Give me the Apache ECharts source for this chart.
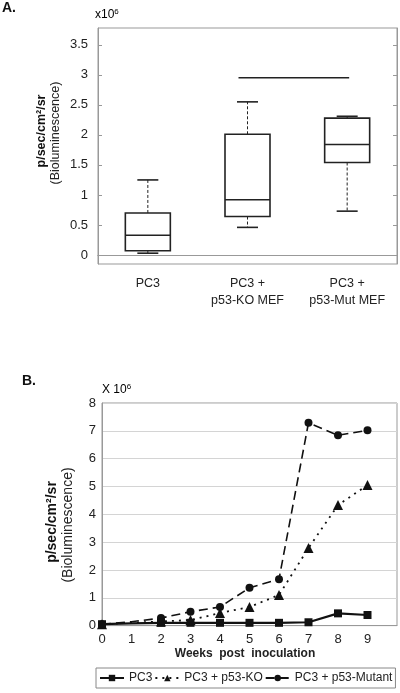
<!DOCTYPE html>
<html><head><meta charset="utf-8">
<script src="https://cdn.jsdelivr.net/npm/echarts@6/dist/echarts.min.js"></script>
<style>html,body{margin:0;padding:0;background:#fff}#c{width:400px;height:693px}</style>
</head><body><div id="c"></div>
<script>
// Panel A data: [min, Q1, median, Q3, max] (x10^6)
const groupsA = ['PC3', 'PC3 +\np53-KO MEF', 'PC3 +\np53-Mut MEF'];
const boxPC3 = [0.03, 0.07, 0.33, 0.70, 1.25];
const boxKO = [0.46, 0.64, 0.92, 2.01, 2.55];
const boxMut = [0.73, 1.54, 1.84, 2.28, 2.31];
const sigBar = [1, 2, 2.95];
const ticksA = [0, 0.5, 1, 1.5, 2, 2.5, 3, 3.5];

// Panel B data (x10^6)
const weeks = [0, 1, 2, 3, 4, 5, 6, 7, 8, 9];
const pc3 = [0.05, 0.08, 0.1, 0.1, 0.1, 0.1, 0.1, 0.12, 0.44, 0.38];
const ko = [0.05, 0.1, 0.15, 0.2, 0.45, 0.67, 1.1, 2.79, 4.33, 5.05];
const mut = [0.05, 0.14, 0.27, 0.5, 0.67, 1.36, 1.67, 7.29, 6.84, 7.02];
const markedWeeks = [0, 2, 3, 4, 5, 6, 7, 8, 9];

const boxes = [boxPC3, boxKO, boxMut];
const FONT = 'Liberation Sans, Arial, sans-serif';
const chart = echarts.init(document.getElementById('c'), null, {renderer: 'canvas'});

function lineData(vals) {
  return weeks.map((w, i) => ({
    value: [w, vals[i]],
    symbolSize: markedWeeks.includes(w) ? undefined : 0
  }));
}

const boxRender = function (params, api) {
  const i = api.value(0);
  const lo = api.coord([i, api.value(1)]);
  const q1 = api.coord([i, api.value(2)]);
  const md = api.coord([i, api.value(3)]);
  const q3 = api.coord([i, api.value(4)]);
  const hi = api.coord([i, api.value(5)]);
  const x = lo[0], bw = 45, cw = 21;
  const solid = {stroke: '#222', lineWidth: 1.6, fill: 'none'};
  const dash = {stroke: '#222', lineWidth: 1, lineDash: [3, 2]};
  return {type: 'group', children: [
    {type: 'line', shape: {x1: x, y1: q3[1], x2: x, y2: hi[1]}, style: dash},
    {type: 'line', shape: {x1: x, y1: q1[1], x2: x, y2: lo[1]}, style: dash},
    {type: 'line', shape: {x1: x - cw / 2, y1: hi[1], x2: x + cw / 2, y2: hi[1]}, style: solid},
    {type: 'line', shape: {x1: x - cw / 2, y1: lo[1], x2: x + cw / 2, y2: lo[1]}, style: solid},
    {type: 'rect', shape: {x: x - bw / 2, y: q3[1], width: bw, height: q1[1] - q3[1]}, style: {stroke: '#222', lineWidth: 1.6, fill: '#fff'}},
    {type: 'line', shape: {x1: x - bw / 2, y1: md[1], x2: x + bw / 2, y2: md[1]}, style: solid}
  ]};
};

const sigRender = function (params, api) {
  const a = api.coord([api.value(0), api.value(2)]);
  const b = api.coord([api.value(1), api.value(2)]);
  return {type: 'line', shape: {x1: a[0] - 9, y1: a[1], x2: b[0] + 2, y2: b[1]}, style: {stroke: '#222', lineWidth: 1.5}};
};

const axisGray = '#999';
const option = {
  animation: false,
  graphic: [
    {type: 'text', x: 2, y: 1, style: {text: 'A.', font: 'bold 14px ' + FONT, fill: '#111'}},
    {type: 'text', x: 95, y: 8, style: {text: '{a|x10}{s|6}', rich: {a: {fontSize: 12, fontFamily: FONT, color: '#222'}, s: {fontSize: 8, fontFamily: FONT, color: '#222', verticalAlign: 'top', padding: [0, 0, 6, 0]}}}},
    {type: 'text', x: 42, y: 131, rotation: Math.PI / 2, style: {text: 'p/sec/cm²/sr', font: 'bold 12.5px ' + FONT, fill: '#111', textAlign: 'center', textVerticalAlign: 'middle'}},
    {type: 'text', x: 56, y: 133, rotation: Math.PI / 2, style: {text: '(Bioluminescence)', font: '12.5px ' + FONT, fill: '#222', textAlign: 'center', textVerticalAlign: 'middle'}},
    {type: 'text', x: 22, y: 374, style: {text: 'B.', font: 'bold 14px ' + FONT, fill: '#111'}},
    {type: 'text', x: 102, y: 383, style: {text: '{a|X 10}{s|6}', rich: {a: {fontSize: 12, fontFamily: FONT, color: '#222'}, s: {fontSize: 8, fontFamily: FONT, color: '#222', verticalAlign: 'top', padding: [0, 0, 6, 0]}}}},
    {type: 'text', x: 52, y: 522, rotation: Math.PI / 2, style: {text: 'p/sec/cm²/sr', font: 'bold 14px ' + FONT, fill: '#111', textAlign: 'center', textVerticalAlign: 'middle'}},
    {type: 'text', x: 68, y: 525, rotation: Math.PI / 2, style: {text: '(Bioluminescence)', font: '14px ' + FONT, fill: '#222', textAlign: 'center', textVerticalAlign: 'middle'}},
    {type: 'text', x: 245, y: 648, style: {text: 'Weeks  post  inoculation', font: 'bold 12px ' + FONT, fill: '#222', textAlign: 'center'}}
  ],
  grid: [
    {left: 98, right: 3, top: 28, height: 236, show: true, borderColor: axisGray, borderWidth: 1},
    {left: 102, right: 3, top: 403, height: 222.6, show: true, borderColor: axisGray, borderWidth: 1}
  ],
  xAxis: [
    {gridIndex: 0, type: 'category', data: groupsA, boundaryGap: true,
     axisLine: {lineStyle: {color: axisGray}}, axisTick: {alignWithLabel: true, inside: true, length: 4, lineStyle: {color: axisGray}},
     axisLabel: {color: '#222', fontSize: 12.5, fontFamily: FONT, margin: 11, lineHeight: 17}},
    {gridIndex: 0, type: 'category', position: 'top', data: groupsA, boundaryGap: true,
     axisLine: {lineStyle: {color: axisGray}}, axisTick: {alignWithLabel: true, inside: true, length: 4, lineStyle: {color: axisGray}},
     axisLabel: {show: false}},
    {gridIndex: 1, type: 'value', min: 0, max: 10, interval: 1,
     axisLine: {lineStyle: {color: axisGray}}, axisTick: {show: false}, splitLine: {show: false},
     axisLabel: {color: '#222', fontSize: 13, fontFamily: FONT, margin: 7, formatter: v => v === 10 ? '' : String(v)}}
  ],
  yAxis: [
    {gridIndex: 0, type: 'value', min: -0.15, max: 3.78,
     axisLine: {show: true, lineStyle: {color: axisGray}},
     axisTick: {show: true, inside: true, length: 4, customValues: ticksA, lineStyle: {color: axisGray}},
     axisLabel: {color: '#222', fontSize: 13, fontFamily: FONT, margin: 10, customValues: ticksA},
     splitLine: {show: false}},
    {gridIndex: 0, type: 'value', position: 'right', min: -0.15, max: 3.78,
     axisLine: {show: true, lineStyle: {color: axisGray}},
     axisTick: {show: true, inside: true, length: 4, customValues: ticksA, lineStyle: {color: axisGray}},
     axisLabel: {show: false, customValues: ticksA}, splitLine: {show: false}},
    {gridIndex: 1, type: 'value', min: 0, max: 8, interval: 1,
     axisLine: {show: true, lineStyle: {color: axisGray}}, axisTick: {show: false},
     axisLabel: {color: '#222', fontSize: 13, fontFamily: FONT, margin: 6},
     splitLine: {lineStyle: {color: '#d4d4d4'}}}
  ],
  legend: {
    left: 96, top: 668,
    borderColor: '#888', borderWidth: 1, padding: [4, 3, 4, 3],
    itemWidth: 24, itemHeight: 8, itemGap: 2,
    textStyle: {fontSize: 12, fontFamily: FONT, color: '#222'},
    data: ['PC3', 'PC3 + p53-KO', 'PC3 + p53-Mutant']
  },
  series: [
    {type: 'custom', name: 'box', xAxisIndex: 0, yAxisIndex: 0, renderItem: boxRender,
     encode: {x: 0, y: [1, 2, 3, 4, 5]},
     data: boxes.map((b, i) => [i].concat(b)), z: 2},
    {type: 'custom', name: 'sig', xAxisIndex: 0, yAxisIndex: 0, renderItem: sigRender,
     encode: {x: [0, 1], y: 2}, data: [sigBar], z: 3},
    {type: 'line', name: 'PC3', xAxisIndex: 2, yAxisIndex: 2, data: lineData(pc3),
     symbol: 'rect', symbolSize: 8, lineStyle: {color: '#111', width: 2.2, type: 'solid'},
     itemStyle: {color: '#111'}, z: 5},
    {type: 'line', name: 'PC3 + p53-KO', xAxisIndex: 2, yAxisIndex: 2, data: lineData(ko),
     symbol: 'triangle', symbolSize: 10, lineStyle: {color: '#111', width: 1.8, type: [2, 5]},
     itemStyle: {color: '#111'}, z: 4},
    {type: 'line', name: 'PC3 + p53-Mutant', xAxisIndex: 2, yAxisIndex: 2, data: lineData(mut),
     symbol: 'circle', symbolSize: 8, lineStyle: {color: '#111', width: 1.6, type: [9, 5]},
     itemStyle: {color: '#111'}, z: 4}
  ]
};
chart.setOption(option);
</script></body></html>
